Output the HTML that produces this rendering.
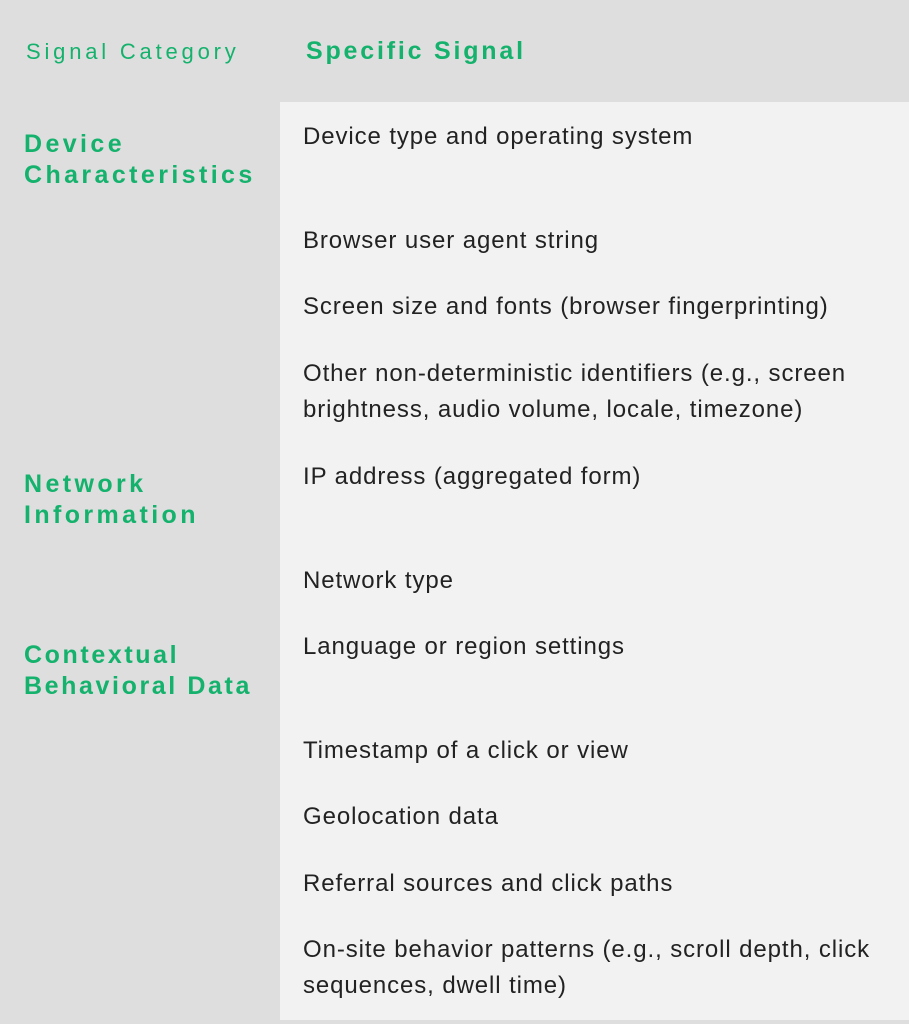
<!DOCTYPE html>
<html><head><meta charset="utf-8"><style>
html,body{margin:0;padding:0}
body{width:909px;height:1024px;background:#dedede;position:relative;overflow:hidden;font-family:"Liberation Sans",sans-serif}
.panel{position:absolute;left:280px;top:102px;width:629px;height:918px;background:#f2f2f2}
.t{position:absolute;left:303px;font-size:24px;line-height:36px;color:#222;white-space:nowrap;letter-spacing:0.9px}
.g{position:absolute;left:24px;color:#14b26c;font-weight:bold;font-size:25px;line-height:31px;letter-spacing:3.4px;white-space:nowrap}
</style></head><body>
<div class="panel"></div>
<div class="g" style="top:36px;font-weight:normal;font-size:22px;left:26px;letter-spacing:3.8px">Signal Category</div>
<div class="g" style="top:36px;left:306px;font-size:25px;letter-spacing:2.8px">Specific Signal</div>
<div class="g" style="top:129px">Device<br>Characteristics</div>
<div class="g" style="top:469px">Network<br>Information</div>
<div class="g" style="top:640px;letter-spacing:2.6px">Contextual<br>Behavioral Data</div>
<div class="t" style="top:119px">Device type and operating system</div>
<div class="t" style="top:223px">Browser user agent string</div>
<div class="t" style="top:289px">Screen size and fonts (browser fingerprinting)</div>
<div class="t" style="top:356px">Other non-deterministic identifiers (e.g., screen<br>brightness, audio volume, locale, timezone)</div>
<div class="t" style="top:459px">IP address (aggregated form)</div>
<div class="t" style="top:563px">Network type</div>
<div class="t" style="top:629px">Language or region settings</div>
<div class="t" style="top:733px">Timestamp of a click or view</div>
<div class="t" style="top:799px">Geolocation data</div>
<div class="t" style="top:866px">Referral sources and click paths</div>
<div class="t" style="top:932px">On-site behavior patterns (e.g., scroll depth, click<br>sequences, dwell time)</div>
</body></html>
